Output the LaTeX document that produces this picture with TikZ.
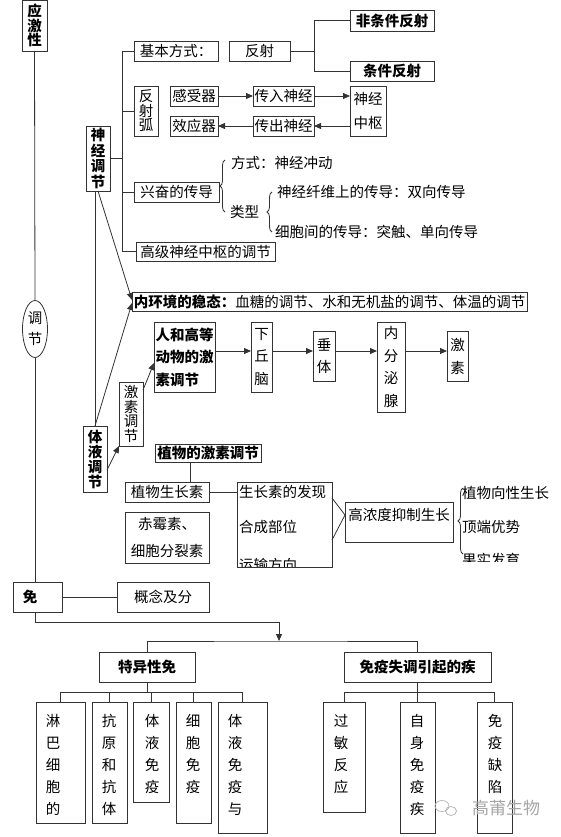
\documentclass[tikz,border=0pt]{standalone}
\usepackage{fontspec}
\setmainfont{Noto Sans CJK SC}
\usetikzlibrary{arrows.meta,shapes.geometric,decorations.pathreplacing}
\tikzset{
  every node/.style={font=\fontsize{14.5}{17}\selectfont, inner sep=0pt, outer sep=0pt},
  box/.style={draw=black!80, line width=0.8pt},
  vs/.style={align=center, font=\fontsize{14.5}{#1}\selectfont},
  vsb/.style={align=center, font=\bfseries\fontsize{14.5}{#1}\selectfont},
  bft/.style={font=\bfseries\fontsize{14.5}{17}\selectfont},
  conn/.style={draw=black!80, line width=0.8pt},
  arr/.style={conn, -{Triangle[length=7pt,width=6pt]}},
  brc/.style={conn, decorate, decoration={brace, amplitude=5pt}},
  wm/.style={text=black!35, font=\fontsize{17}{20}\selectfont},
}
\newcommand\bx[7][]{\node[box,#1,minimum width={(#4-#2)*1pt},minimum height={(#5-#3)*1pt}] (#6) at ({(#2+#4)/2},{(#3+#5)/2}) {#7};}
\begin{document}
\begin{tikzpicture}[x=1pt,y=-1pt]
\useasboundingbox (0,0) rectangle (560,837);
\clip (0,0) rectangle (560,837);
\fill[white] (0,0) rectangle (560,837);

% ---------- left spine ----------
\bx[vsb=13.5]{22}{0}{47}{51}{yjx}{应\\激\\性}
\node[box, ellipse, minimum width=25pt, minimum height=57pt, vs=21] (tj) at (35,329) {调\\节};
\bx{13}{582}{62}{612}{mian}{}
\node[bft] (mianT) at (30,597) {免};
\bx{117}{582}{209}{612}{gn}{概念及分}
\draw[conn] (yjx.south) -- (tj.north);
\draw[conn] (tj.south) -- (tj.south |- mian.north);
\draw[conn] (mian.east) -- (gn.west);

% ---------- nervous regulation ----------
\bx[vsb=15.5]{86}{126}{110}{191}{sjtj}{神\\经\\调\\节}
\bx{134}{41}{218}{61}{jbfs}{基本方式：}
\bx{229}{41}{290}{61}{fs}{反射}
\bx[bft]{350}{10}{434}{31}{fjt}{非条件反射}
\bx[bft]{350}{61}{434}{81}{tjfs}{条件反射}
\bx[vs=14.5]{134}{86}{158}{136}{fsh}{反\\射\\弧}
\bx{170}{86}{218}{106}{gsq}{感受器}
\bx{170}{116}{218}{136}{xyq}{效应器}
\bx{253}{86}{314}{106}{crsj}{传入神经}
\bx{253}{116}{314}{136}{ccsj}{传出神经}
\bx[vs=24]{350}{86}{386}{136}{sjzs}{神经\\中枢}
\bx{134}{182}{219}{202}{xf}{兴奋的传导}
\bx{136}{242}{275}{261}{gj}{高级神经中枢的调节}

\coordinate (brk) at (122,0);
\draw[conn] (jbfs.west) -| (brk |- gj.west) -- (gj.west);
\draw[conn] (fsh.west) -- (fsh.west -| brk);
\draw[conn] (xf.west) -- (xf.west -| brk);
\draw[conn] (sjtj.east) -- (sjtj.east -| brk);

\coordinate (brk2) at (314,0);
\draw[conn] (fjt.west) -| (brk2 |- tjfs.west) -- (tjfs.west);
\draw[conn] (fs.east) -- (fs.east -| brk2);

\draw[arr] (gsq) -- (crsj);
\draw[arr] (crsj) -- (crsj -| sjzs.west);
\draw[arr] (sjzs.west |- ccsj) -- (ccsj);
\draw[arr] (ccsj) -- (xyq);

\coordinate (b1b) at (225,212);
\coordinate (b1t) at (225,160);
\draw[brc] (b1b) -- (b1t);
\node[anchor=west] (fs1) at (231,163) {方式：神经冲动};
\node[anchor=west] (lx) at (230,212) {类型};
\coordinate (b2b) at (272,232);
\coordinate (b2t) at (272,192);
\draw[brc] (b2b) -- (b2t);
\node[anchor=west] (lx1) at (277,192) {神经纤维上的传导：双向传导};
\node[anchor=west] (lx2) at (275,232) {细胞间的传导：突触、单向传导};

% ---------- internal environment / humoral ----------
\bx{132}{292}{527}{311}{nhj}{{\bfseries 内环境的稳态：}血糖的调节、水和无机盐的调节、体温的调节}
\bx[vsb=15]{83}{426}{107}{492}{tytj}{体\\液\\调\\节}
\draw[conn] (tytj.north) -- (tytj.north |- sjtj.south);
\draw[arr] (sjtj.south) -- ([yshift=1.5pt]nhj.west);
\draw[arr] (tytj.north) -- ([yshift=-1.5pt]nhj.west);

\bx[vs=14.5]{119}{382}{143}{446}{jstj}{激\\素\\调\\节}
\bx[align=left, font=\bfseries\fontsize{14.5}{22.5}\selectfont]{154}{322}{215}{392}{rhgd}{人和高等\\动物的激\\素调节}
\bx[vs=22.5]{251}{322}{272}{392}{xqn}{下\\丘\\脑}
\bx[vs=22]{313}{331}{335}{381}{ct}{垂\\体}
\bx[vs=22.5]{377}{322}{405}{412}{nfm}{内\\分\\泌\\腺}
\bx[vs=23]{447}{331}{468}{381}{js}{激\\素}
\draw[arr] ([yshift=-11pt]tytj.east) -- (jstj.south west);
\draw[arr] ([yshift=-8pt]jstj.north east) -- ([yshift=-6pt]rhgd.west);
\coordinate (ar) at (0,351);
\draw[arr] (rhgd.east |- ar) -- (xqn.west |- ar);
\draw[arr] (xqn.east |- ar) -- (ct.west |- ar);
\draw[arr] (ct.east |- ar) -- (nfm.west |- ar);
\draw[arr] (nfm.east |- ar) -- (js.west |- ar);

% ---------- plant hormones ----------
\bx[bft]{155}{444}{261}{462}{zwjs}{植物的激素调节}
\bx{125}{482}{209}{502}{zwszs}{植物生长素}
\bx[align=center, font=\fontsize{14.5}{27}\selectfont]{125}{512}{209}{563}{cms}{赤霉素、\\细胞分裂素}
\begin{scope}
  \clip (237,482) rectangle (332,566.5);
  \node[anchor=west] (szs3) at (239,565) {运输方向};
\end{scope}
\bx{237}{482}{332}{567}{szs}{}
\node[anchor=west] (szs1) at (239,492) {生长素的发现};
\node[anchor=west] (szs2) at (239,527) {合成部位};
\draw[conn] ([xshift=-18pt]zwjs.south) -- ([xshift=-18pt]zwjs.south |- zwszs.north);
\draw[conn] (zwszs.east) -- (zwszs.east -| szs.west);

\bx{345}{502}{453}{542}{gnd}{}
\node (gndT) at (399,515) {高浓度抑制生长};
\draw[conn] ([yshift=26.5pt]szs.east) -- ([yshift=7pt]gnd.west) -- ([yshift=-15.5pt]szs.east);
\coordinate (b3b) at (463,554);
\coordinate (b3t) at (463,488);
\draw[brc] (b3b) -- (b3t);
\node[anchor=west] (p1) at (462,493) {植物向性生长};
\node[anchor=west] (p2) at (462,527) {顶端优势};
\begin{scope}
  \clip (455,540) rectangle (560,561);
  \node[anchor=west] (p3) at (462,560) {果实发育};
\end{scope}

% ---------- immunity ----------
\coordinate (turn) at (279,622);
\coordinate (split) at (279,641);
\draw[arr] (tj.south |- mian.south) |- (turn) -- (split);
\bx[bft]{99}{652}{195}{682}{tyx}{特异性免}
\bx[bft]{344}{652}{491}{682}{sjt}{免疫失调引起的疾}
\draw[conn] (tyx.north) |- (split) -| (sjt.north);

\coordinate (busA) at (0,692);
\bx{36}{702}{85}{823}{t1}{}
\bx{92}{702}{127}{823}{t2}{}
\bx{133}{702}{169}{802}{t3}{}
\bx{176}{702}{211}{823}{t4}{}
\bx{218}{702}{267}{833}{t5}{}
\draw[conn] (tyx.south) -- (tyx.south |- busA);
\draw[conn] (t1.north) |- (t5.north |- busA) -- (t5.north);
\foreach \n in {t2,t3,t4} \draw[conn] (\n.north) -- (\n.north |- busA);
\node[vs=22, anchor=north] (t1T) at (53,714) {淋\\巴\\细\\胞\\的};
\node[vs=22, anchor=north] (t2T) at (109,714) {抗\\原\\和\\抗\\体};
\node[vs=22, anchor=north] (t3T) at (152,714) {体\\液\\免\\疫};
\node[vs=22, anchor=north] (t4T) at (193,714) {细\\胞\\免\\疫};
\node[vs=22, anchor=north] (t5T) at (235,714) {体\\液\\免\\疫\\与};

\bx{323}{702}{365}{812}{s1}{}
\bx{400}{702}{435}{833}{s2}{}
\bx{477}{702}{512}{833}{s3}{}
\draw[conn] (sjt.south) -- (sjt.south |- busA);
\draw[conn] (s1.north) |- (s3.north |- busA) -- (s3.north);
\draw[conn] (s2.north) -- (s2.north |- busA);
\node[vs=22, anchor=north] (s1T) at (341,714) {过\\敏\\反\\应};
\node[vs=22, anchor=north] (s2T) at (417,714) {自\\身\\免\\疫\\疾};
\node[vs=22, anchor=north] (s3T) at (495,714) {免\\疫\\缺\\陷};

% watermark
\draw[black!30, line width=0.7pt] (442,806) ellipse (7 and 5.5);
\draw[black!30, line width=0.7pt] (451,811) ellipse (5.5 and 4.5);
\node[wm] (wmT) at (506,808) {高莆生物};
\end{tikzpicture}
\end{document}
